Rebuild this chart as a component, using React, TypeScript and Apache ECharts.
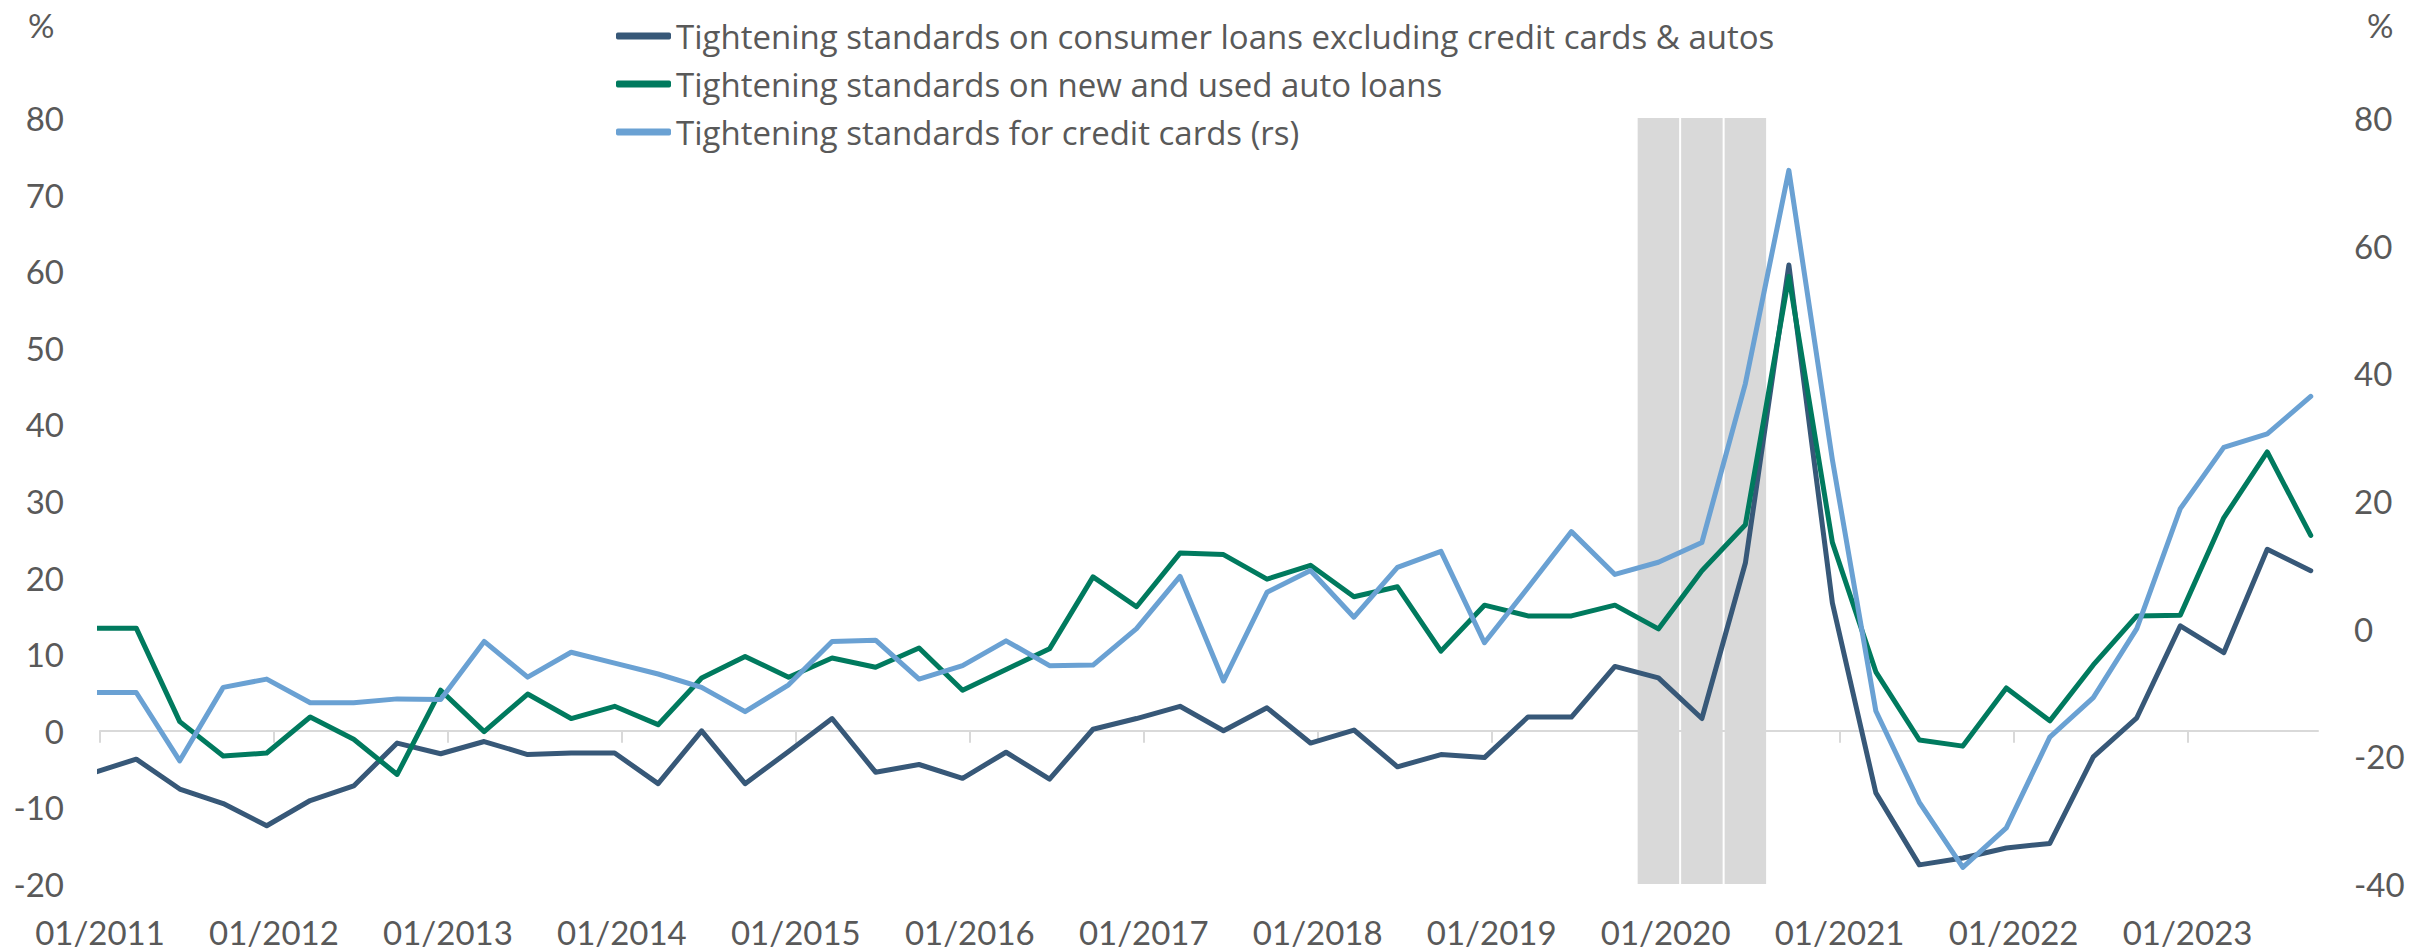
import React, { useEffect, useRef } from "react";
import * as echarts from "echarts";

// Quarterly survey periods, 2011Q1 .. 2023Q4
const QUARTERS: string[] = Array.from({ length: 52 }, (_, i) => `${2011 + Math.floor(i / 4)}Q${(i % 4) + 1}`);

const TICK_LABELS = [
  "01/2011", "01/2012", "01/2013", "01/2014", "01/2015", "01/2016", "01/2017",
  "01/2018", "01/2019", "01/2020", "01/2021", "01/2022", "01/2023",
];

const SERIES_NAMES = [
  "Tightening standards on consumer loans excluding credit cards & autos",
  "Tightening standards on new and used auto loans",
  "Tightening standards for credit cards (rs)",
];

// Consumer loans excl. credit cards & autos (left axis)
const CONSUMER = [
  -5.5, -3.7, -7.6, -9.5, -12.4, -9.1, -7.2, -1.6, -3.0, -1.4, -3.1, -2.9, -2.9,
  -6.9, 0.0, -6.9, -2.7, 1.6, -5.4, -4.4, -6.2, -2.8, -6.3, 0.2, 1.6, 3.2, 0.0,
  3.0, -1.6, 0.1, -4.7, -3.1, -3.5, 1.8, 1.8, 8.4, 6.9, 1.6, 21.9, 60.8, 16.7,
  -8.1, -17.5, -16.6, -15.3, -14.7, -3.4, 1.7, 13.7, 10.2, 23.7, 20.9,
];

// New and used auto loans (left axis)
const AUTO = [
  13.4, 13.4, 1.2, -3.3, -2.9, 1.8, -1.1, -5.7, 5.3, -0.1, 4.8, 1.6, 3.2, 0.8,
  6.9, 9.7, 7.0, 9.5, 8.3, 10.8, 5.3, 8.0, 10.7, 20.1, 16.2, 23.2, 23.0, 19.8,
  21.6, 17.5, 18.8, 10.4, 16.4, 15.0, 15.0, 16.4, 13.3, 20.9, 26.9, 59.3, 24.6,
  7.7, -1.2, -2.0, 5.6, 1.3, 8.6, 15.0, 15.1, 27.8, 36.4, 25.5,
];

// Credit cards (right axis)
const CARDS = [
  -10.0, -10.0, -20.7, -9.2, -7.9, -11.6, -11.6, -11.0, -11.1, -2.0, -7.6, -3.7,
  -5.4, -7.1, -9.2, -13.0, -8.8, -2.0, -1.8, -7.9, -5.8, -1.9, -5.8, -5.7, 0.0,
  8.2, -8.2, 5.7, 9.1, 1.8, 9.6, 12.1, -2.2, 6.4, 15.2, 8.5, 10.4, 13.5, 38.4,
  71.8, 26.5, -12.9, -27.2, -37.4, -31.2, -17.0, -10.8, 0.0, 18.8, 28.4, 30.5, 36.4,
];

// Recession-shaded quarters
const RECESSION = ["2020Q1", "2020Q2", "2020Q3"];

const LEFT_MIN = -20;
const LEFT_MAX = 80;
const RIGHT_MIN = -40;
const RIGHT_MAX = 80;

const COLORS = ["#375878", "#007a5e", "#6aa1d3"];
const TEXT = "#595959";
const FONT = "Lato";
const LEGEND_FONT = "Open Sans";
const FS = 33;

// months since Jan 2011; points sit half a month before the period start
const PLOT_OFFSET = -0.5;
const X_MAX = 153;

function monthOf(q: string): number {
  const y = parseInt(q.slice(0, 4), 10);
  const k = parseInt(q.slice(5), 10);
  return (y - 2011) * 12 + (k - 1) * 3 + PLOT_OFFSET;
}

const TICK_VALUES = TICK_LABELS.map((_, i) => i * 12);

export default function App() {
  const ref = useRef<HTMLDivElement>(null);

  useEffect(() => {
    document.body.style.margin = "0";
    if (!ref.current) return;
    const chart = echarts.init(ref.current, undefined, { renderer: "svg" });

    const mk = (vals: number[]) => vals.map((v, i) => [monthOf(QUARTERS[i]), v]);

    const lineSeries = [CONSUMER, AUTO, CARDS].map((vals, k) => ({
      name: SERIES_NAMES[k],
      type: "line",
      xAxisIndex: 0,
      yAxisIndex: k === 2 ? 1 : 0,
      data: mk(vals),
      showSymbol: false,
      symbol: "none",
      clip: true,
      z: 3 + k,
      lineStyle: { color: COLORS[k], width: 5, cap: "round", join: "round" },
      itemStyle: { color: COLORS[k] },
    }));

    const option: any = {
      animation: false,
      backgroundColor: "#ffffff",
      textStyle: { fontFamily: FONT },
      grid: { left: 100, right: 92, top: 118, bottom: 67, containLabel: false },
      legend: {
        orient: "vertical",
        left: 616,
        top: 12,
        padding: 0,
        itemWidth: 55,
        itemHeight: 7,
        itemGap: 0,
        icon: "roundRect",
        selectedMode: false,
        textStyle: { fontSize: 33, color: TEXT, lineHeight: 48, fontFamily: LEGEND_FONT },
        data: SERIES_NAMES,
      },
      xAxis: [
        {
          type: "value",
          min: 0,
          max: X_MAX,
          interval: 12,
          position: "bottom",
          axisLine: { show: true, onZero: true, onZeroAxisIndex: 0, lineStyle: { color: "#d9d9d9", width: 2 } },
          axisTick: { show: true, length: 12, customValues: TICK_VALUES, lineStyle: { color: "#d9d9d9", width: 2 } },
          axisLabel: { show: false },
          splitLine: { show: false },
        },
        {
          type: "value",
          min: 0,
          max: X_MAX,
          interval: 12,
          position: "bottom",
          axisLine: { show: false, onZero: false },
          axisTick: { show: false },
          splitLine: { show: false },
          axisLabel: {
            show: true,
            customValues: TICK_VALUES,
            margin: 48,
            verticalAlign: "middle",
            lineHeight: 32,
            fontSize: FS,
            color: TEXT,
            fontFamily: FONT,
            formatter: (v: number) => TICK_LABELS[Math.round(v / 12)] ?? "",
          },
        },
      ],
      yAxis: [
        {
          type: "value",
          position: "left",
          min: LEFT_MIN,
          max: LEFT_MAX,
          interval: 10,
          axisLine: { show: false },
          axisTick: { show: false },
          splitLine: { show: false },
          axisLabel: { margin: 36, fontSize: FS, color: TEXT, fontFamily: FONT },
        },
        {
          type: "value",
          position: "right",
          min: RIGHT_MIN,
          max: RIGHT_MAX,
          interval: 20,
          axisLine: { show: false },
          axisTick: { show: false },
          splitLine: { show: false },
          axisLabel: { margin: 36, fontSize: FS, color: TEXT, fontFamily: FONT },
        },
      ],
      graphic: [
        {
          type: "text",
          x: 28,
          y: 25,
          style: { text: "%", fontSize: FS, fill: TEXT, fontFamily: FONT, verticalAlign: "middle", align: "left" },
        },
        {
          type: "text",
          x: 2367,
          y: 25,
          style: { text: "%", fontSize: FS, fill: TEXT, fontFamily: FONT, verticalAlign: "middle", align: "left" },
        },
      ],
      series: [
        {
          type: "custom",
          name: "recession",
          xAxisIndex: 0,
          yAxisIndex: 0,
          z: 1,
          silent: true,
          encode: { x: [0, 1] },
          data: RECESSION.map((q) => [monthOf(q) - 1.5, monthOf(q) + 1.5]),
          renderItem: (_params: any, api: any) => {
            const s = api.coord([api.value(0), LEFT_MAX]);
            const e = api.coord([api.value(1), LEFT_MIN]);
            return {
              type: "rect",
              shape: { x: s[0] + 1, y: s[1], width: e[0] - s[0] - 2, height: e[1] - s[1] },
              style: { fill: "#d9d9d9" },
            };
          },
        },
        ...lineSeries,
      ],
    };

    chart.setOption(option);
    return () => chart.dispose();
  }, []);

  return (
    <div
      ref={ref}
      style={{ position: "absolute", left: 0, top: 0, width: 2410, height: 951, background: "#fff" }}
    />
  );
}
